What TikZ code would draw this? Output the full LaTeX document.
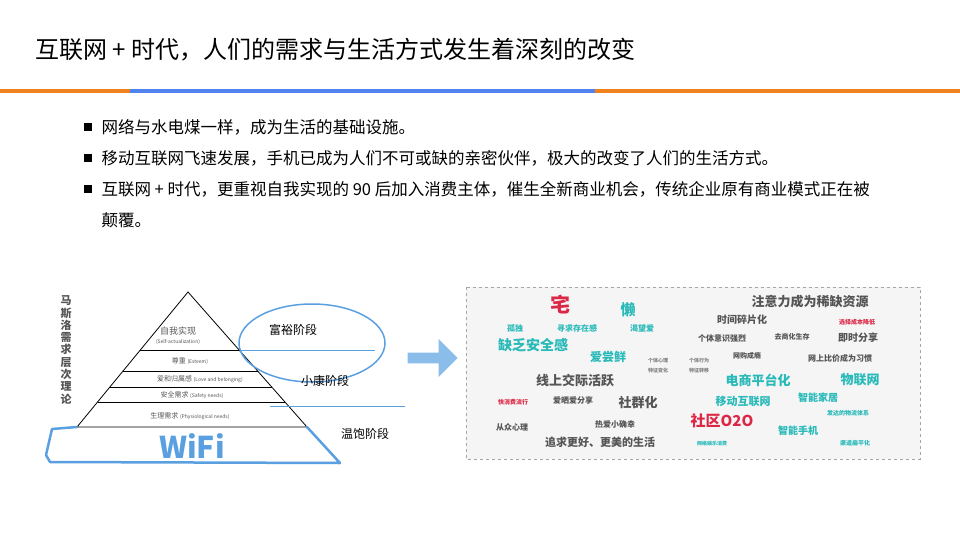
\documentclass[tikz,border=0pt]{standalone}
\usepackage{fontspec}
\setmainfont{Noto Sans CJK SC}
\usetikzlibrary{shapes.arrows}
\definecolor{myorange}{RGB}{240,130,30}
\definecolor{myblue}{RGB}{80,130,240}
\definecolor{mysky}{RGB}{90,160,225}
\definecolor{myteal}{RGB}{40,185,185}
\definecolor{myred}{RGB}{220,40,70}
\definecolor{mygray}{RGB}{85,85,85}
\begin{document}
\begin{tikzpicture}[
        x=1pt, y=-1pt,
        title_node/.style={anchor=west, font=\fontsize{24}{28}\selectfont, text=black},
        bullet_text/.style={anchor=west, font=\fontsize{16.5}{20}\selectfont, text=black},
        layer_label/.style={font=\fontsize{7}{8}\selectfont, text=mygray, inner sep=0pt},
        stage_label/.style={font=\fontsize{12}{14}\selectfont, text=black},
        word/.style={font=\fontsize{#1}{#1}\selectfont\bfseries, inner sep=0pt},
        word/.default=8
    ]
        \useasboundingbox (0,0) rectangle (960,540);

        % title and rule
        \node[title_node] (title) at (32,50) {互联网 + 时代，人们的需求与生活方式发生着深刻的改变};
        \draw[myorange, line width=4pt] (0,91) -- (130,91);
        \draw[myblue, line width=4pt] (130,91) -- (595,91);
        \draw[myorange, line width=4pt] (595,91) -- (960,91);

        % bullets
        \foreach \y/\txt in {127/{网络与水电煤一样，成为生活的基础设施。},
                             158/{移动互联网飞速发展，手机已成为人们不可或缺的亲密伙伴，极大的改变了人们的生活方式。},
                             189/{互联网 + 时代，更重视自我实现的 90 后加入消费主体，催生全新商业机会，传统企业原有商业模式正在被}} {
            \fill[black] (84,\y-4) rectangle (92,\y+4);
            \node[bullet_text] at (98,\y) {\txt};
        }
        \node[bullet_text] (b4) at (98,220) {颠覆。};

        % pyramid
        \coordinate (apex) at (188,292);
        \coordinate (bl) at (77,427);
        \coordinate (br) at (307,427);
        \draw[thick] (bl) -- (apex) -- (br) -- cycle;
        \foreach \y in {350,371,387,402} {
            \draw[thick] ({188-111*(\y-292)/135},\y) -- ({188+119*(\y-292)/135},\y);
        }
        \node[layer_label, font=\fontsize{9}{10}\selectfont] (l1) at (178,331) {自我实现};
        \node[layer_label, font=\fontsize{5}{6}\selectfont] (l1e) at (178,342) {(Self-actualization)};
        \node[layer_label] (l2) at (190,361) {尊重 {\tiny (Esteem)}};
        \node[layer_label] (l3) at (200,379) {爱和归属感 {\tiny (Love and belonging)}};
        \node[layer_label] (l4) at (192,395) {安全需求 {\tiny (Safety needs)}};
        \node[layer_label] (l5) at (190,416) {生理需求 {\tiny (Physiological needs)}};

        % wifi base
        \draw[mysky, line width=2.5pt, line join=round, line cap=round]
            (bl) -- (52,429) -- (46,455) -- (50,462) -- (340,463) -- (br);
        \node[text=mysky, font=\fontsize{30}{30}\selectfont\bfseries] (wifi) at (192,446) {WiFi};

        % vertical caption
        \node[align=center, font=\fontsize{11}{12.3}\selectfont\bfseries, text=mygray] (maslow) at (66,350)
            {马\\斯\\洛\\需\\求\\层\\次\\理\\论};

        % stages
        \draw[mysky, line width=1.5pt] (312,343) ellipse [x radius=73, y radius=39];
        \draw[mysky] (240,350) -- (375,350);
        \draw[mysky] (270,406) -- (405,406);
        \node[stage_label] (rich) at (293,330) {富裕阶段};
        \node[stage_label] (mid) at (325,381) {小康阶段};
        \node[stage_label] (basic) at (365,434) {温饱阶段};

        % arrow
        \node[single arrow, fill=mysky!70, draw=none, minimum height=50pt, minimum width=38pt,
              single arrow head extend=8pt, inner sep=3pt] (arrow) at (430,358) {};

        % word cloud
        \draw[gray!70, dashed, fill=gray!8] (466,287) rectangle (920,459);
        \node[word=20, text=myred] (w1) at (560,305) {宅};
        \node[word=15, text=myteal] (w2) at (628,310) {懒};
        \node[word, text=myteal] (w3) at (515,328) {孤独};
        \node[word, text=myteal] (w4) at (577,328) {寻求存在感};
        \node[word, text=myteal] (w5) at (642,328) {渴望爱};
        \node[word=14, text=myteal] (w6) at (533,345) {缺乏安全感};
        \node[word=12, text=myteal] (w7) at (608,357) {爱尝鲜};
        \node[word=5, text=gray] (w8) at (658,361) {个体心理};
        \node[word=5, text=gray] (w9) at (699,361) {个体行为};
        \node[word=5, text=gray] (w10) at (658,371) {特征变化};
        \node[word=5, text=gray] (w11) at (699,371) {特征转移};
        \node[word=13, text=mygray] (w12) at (575,381) {线上交际活跃};
        \node[word=6, text=myred] (w13) at (513,402) {快消费流行};
        \node[word, text=mygray] (w14) at (573,400) {爱晒爱分享};
        \node[word=13, text=mygray] (w15) at (638,403) {社群化};
        \node[word, text=mygray] (w16) at (512,427) {从众心理};
        \node[word, text=mygray] (w17) at (615,424) {热爱小确幸};
        \node[word=11, text=mygray] (w18) at (600,442) {追求更好、更美的生活};
        \node[word=13, text=mygray] (w19) at (810,302) {注意力成为稀缺资源};
        \node[word=10, text=mygray] (w20) at (742,320) {时间碎片化};
        \node[word=6, text=myred] (w21) at (857,322) {选择成本降低};
        \node[word, text=mygray] (w22) at (722,338) {个体意识强烈};
        \node[word=7, text=mygray] (w23) at (792,337) {去商化生存};
        \node[word=10, text=mygray] (w24) at (858,338) {即时分享};
        \node[word=7, text=mygray] (w25) at (747,356) {网购成瘾};
        \node[word, text=mygray] (w26) at (840,358) {网上比价成为习惯};
        \node[word=13, text=myteal] (w27) at (758,380) {电商平台化};
        \node[word=13, text=myteal] (w28) at (860,380) {物联网};
        \node[word=11, text=myteal] (w29) at (743,401) {移动互联网};
        \node[word=10, text=myteal] (w30) at (818,398) {智能家居};
        \node[word=6, text=myteal] (w31) at (848,413) {发达的物流体系};
        \node[word=15, text=myred] (w32) at (722,421) {社区O2O};
        \node[word=10, text=myteal] (w33) at (798,431) {智能手机};
        \node[word=5, text=myteal] (w34) at (712,444) {网络娱乐消费};
        \node[word=6, text=myteal] (w35) at (855,443) {渠道扁平化};
\end{tikzpicture}
\end{document}
